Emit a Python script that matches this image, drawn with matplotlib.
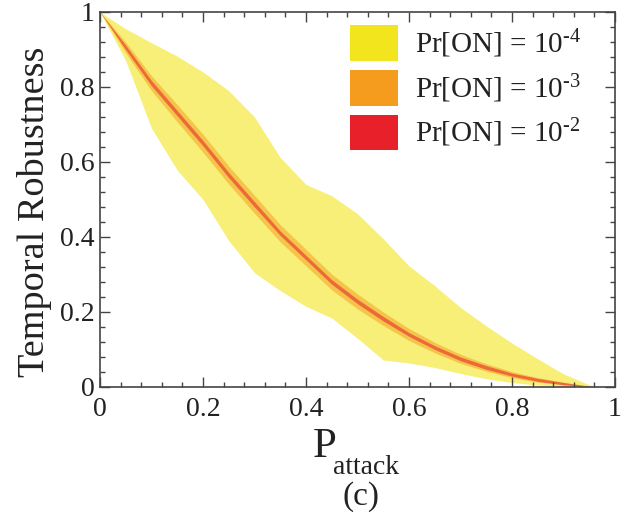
import numpy as np
import matplotlib
matplotlib.use("Agg")
import matplotlib.pyplot as plt
from matplotlib.patches import Patch
from matplotlib.ticker import MultipleLocator

plt.rcParams['font.family'] = ['Liberation Serif', 'DejaVu Serif']
plt.rcParams['mathtext.fontset'] = 'custom'
plt.rcParams['mathtext.rm'] = 'Liberation Serif'
plt.rcParams['mathtext.it'] = 'Liberation Serif:italic'

# P_attack grid and values
p_attack = [0.0, 0.05, 0.1, 0.15, 0.2, 0.25, 0.3, 0.35, 0.4, 0.45, 0.5,
            0.55, 0.6, 0.65, 0.7, 0.75, 0.8, 0.85, 0.9, 0.96]
mean_rob = [1.0, 0.905, 0.81, 0.73, 0.65, 0.565, 0.487, 0.41, 0.345, 0.28, 0.228,
            0.182, 0.14, 0.105, 0.075, 0.052, 0.033, 0.019, 0.009, 0.0]

# Pr[ON] = 1e-4 band
yel_upper = [1.0, 0.955, 0.918, 0.882, 0.84, 0.79, 0.72, 0.612, 0.54, 0.51, 0.462,
             0.395, 0.323, 0.27, 0.212, 0.163, 0.117, 0.075, 0.035, 0.0]
yel_lower = [1.0, 0.87, 0.69, 0.578, 0.5, 0.39, 0.305, 0.257, 0.215, 0.184, 0.13,
             0.072, 0.064, 0.052, 0.036, 0.022, 0.012, 0.005, 0.002, 0.0]

# half widths of Pr[ON] = 1e-3 and 1e-2 bands around the mean
org_half = [0.0, 0.014, 0.02, 0.023, 0.024, 0.024, 0.024, 0.023, 0.022, 0.021, 0.02,
            0.018, 0.016, 0.014, 0.012, 0.01, 0.008, 0.006, 0.004, 0.0]
red_half = [0.0, 0.006, 0.007, 0.007, 0.007, 0.007, 0.007, 0.006, 0.006, 0.006, 0.006,
            0.006, 0.005, 0.005, 0.005, 0.005, 0.004, 0.004, 0.003, 0.0]

labels = [r'Pr[ON] = 10$^{\text{-4}}$',
          r'Pr[ON] = 10$^{\text{-3}}$',
          r'Pr[ON] = 10$^{\text{-2}}$']
colors = ['#f2e51e', '#f59c1f', '#e8202a']

x = np.array(p_attack)
m = np.array(mean_rob)
oh = np.array(org_half)
rh = np.array(red_half)

fig = plt.figure(figsize=(6.23, 5.2), dpi=100)
ax = fig.add_axes([0.1605, 0.2558, 0.8266, 0.7212])

ax.fill_between(x, yel_lower, yel_upper, color=colors[0], alpha=0.6, lw=0)
ax.fill_between(x, m - oh, m + oh, color=colors[1], alpha=0.5, lw=0)
ax.fill_between(x, m - rh, m + rh, color=colors[2], alpha=0.55, lw=0)

ax.set_xlim(0, 1)
ax.set_ylim(0, 1)
ticks = [0, 0.2, 0.4, 0.6, 0.8, 1]
tick_labels = ['0', '0.2', '0.4', '0.6', '0.8', '1']
ax.set_xticks(ticks)
ax.set_xticklabels(tick_labels)
ax.set_yticks(ticks)
ax.set_yticklabels(tick_labels)
ax.xaxis.set_minor_locator(MultipleLocator(0.04))
ax.yaxis.set_minor_locator(MultipleLocator(0.04))
ax.tick_params(which='both', direction='in', top=True, right=True, colors='#444444',
               labelcolor='#222222', width=1)
ax.tick_params(which='major', length=7, labelsize=20)
ax.tick_params(which='minor', length=3.5)
ax.tick_params(axis='x', pad=7)
ax.tick_params(axis='y', pad=4)
for s in ax.spines.values():
    s.set_color('#444444')
    s.set_linewidth(1.2)

ax.set_ylabel('Temporal Robustness', fontsize=27.5, color='#222222')
ax.yaxis.set_label_coords(-0.094, 0.467)

# x label: big P with lowered subscript
fig.text(0.502, 0.121, 'P', fontsize=31, color='#222222', ha='left', va='baseline')
fig.text(0.5345, 0.088, 'attack', fontsize=20, color='#222222', ha='left', va='baseline')

handles = [Patch(facecolor=c, edgecolor='none') for c in colors]
ax.legend(handles, labels, loc='upper left', bbox_to_anchor=(0.485, 0.965),
          frameon=False, fontsize=21, handlelength=1.65, handleheight=1.52,
          handletextpad=0.6, labelspacing=0.3, borderpad=0, borderaxespad=0,
          labelcolor='#222222')

fig.text(0.58, 0.03, '(c)', fontsize=24, ha='center', color='#222222')

fig.savefig('out.png', dpi=100)
